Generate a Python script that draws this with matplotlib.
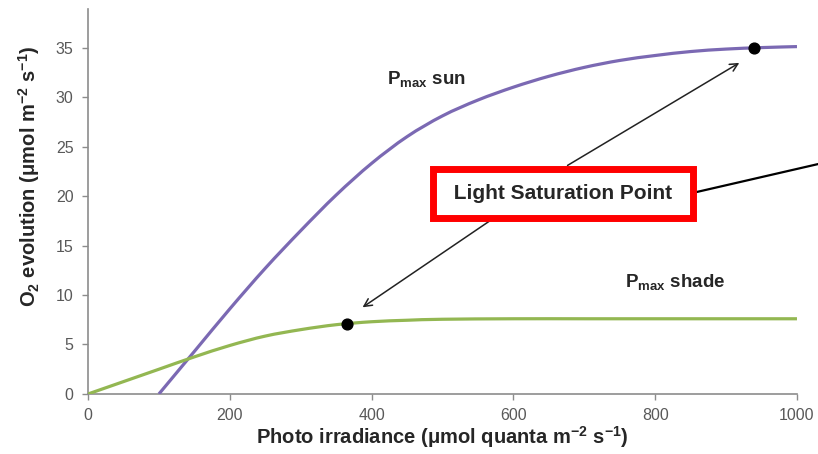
import matplotlib
matplotlib.use("Agg")
import numpy as np
import matplotlib.pyplot as plt
from matplotlib.path import Path
from matplotlib.patches import PathPatch

plt.rcParams['font.family'] = ['Liberation Sans', 'DejaVu Sans']
plt.rcParams['mathtext.fontset'] = 'custom'
plt.rcParams['mathtext.rm'] = 'Liberation Sans'
plt.rcParams['mathtext.bf'] = 'Liberation Sans:bold'

# Photosynthesis-irradiance curves
sun_x = [100, 150, 200, 250, 300, 350, 400, 450, 500, 550, 600, 650, 700, 750, 800, 850, 900, 950, 1000]
sun_y = [0.0, 4.3, 8.6, 12.7, 16.5, 20.1, 23.3, 26.0, 28.1, 29.7, 31.0, 32.1, 33.0, 33.7, 34.2, 34.6, 34.85, 35.0, 35.1]

shade_x = [0, 50, 100, 150, 200, 250, 300, 350, 400, 450, 500, 600, 700, 800, 900, 1000]
shade_y = [0.0, 1.25, 2.5, 3.75, 4.9, 5.85, 6.5, 7.0, 7.3, 7.45, 7.55, 7.6, 7.6, 7.6, 7.6, 7.6]

# Light saturation points
sat_x = [940, 365]
sat_y = [35.0, 7.1]

x_ticks = [0, 200, 400, 600, 800, 1000]
y_ticks = [0, 5, 10, 15, 20, 25, 30, 35]

purple = '#7B69B3'
green = '#93B752'


def smooth_path(xs, ys):
    """Cubic Bezier path through the points (Catmull-Rom tangents), like a smoothed line."""
    p = np.column_stack([xs, ys]).astype(float)
    n = len(p)
    verts = [p[0]]
    codes = [Path.MOVETO]
    for i in range(n - 1):
        p0 = p[i - 1] if i > 0 else p[i]
        p1, p2 = p[i], p[i + 1]
        p3 = p[i + 2] if i + 2 < n else p[i + 1]
        c1 = p1 + (p2 - p0) / 6.0
        c2 = p2 - (p3 - p1) / 6.0
        verts += [c1, c2, p2]
        codes += [Path.CURVE4] * 3
    return Path(verts, codes)


fig = plt.figure(figsize=(8.18, 4.54), dpi=100)
ax = fig.add_axes([0.1076, 0.1322, 0.8667, 0.848])

ax.add_patch(PathPatch(smooth_path(sun_x, sun_y), fill=False, ec=purple, lw=2.3,
                       capstyle='butt', zorder=3))
ax.add_patch(PathPatch(smooth_path(shade_x, shade_y), fill=False, ec=green, lw=2.3,
                       capstyle='butt', zorder=3))
ax.scatter(sat_x, sat_y, s=60, color='black', zorder=5)

ax.set_xlim(0, 1000)
ax.set_ylim(0, 38.9)
ax.set_xticks(x_ticks)
ax.set_yticks(y_ticks)
ax.tick_params(axis='both', colors='#8c8c8c', labelcolor='#595959', labelsize=11.5,
               length=4, width=1, direction='out')
ax.tick_params(axis='x', pad=6)
ax.tick_params(axis='y', pad=6.5)
for s in ['top', 'right']:
    ax.spines[s].set_visible(False)
for s in ['left', 'bottom']:
    ax.spines[s].set_color('#8c8c8c')
    ax.spines[s].set_linewidth(1.2)

ax.set_xlabel(r'Photo irradiance (μmol quanta m$^{\mathregular{-2}}$ s$^{\mathregular{-1}}$)',
              fontsize=14.5, fontweight='bold', color='#262626')
ax.xaxis.set_label_coords(0.5, -0.078)
ax.set_ylabel(r'O$_{\mathregular{2}}$ evolution (μmol m$^{\mathregular{-2}}$ s$^{\mathregular{-1}}$)',
              fontsize=14.5, fontweight='bold', color='#262626')
ax.yaxis.set_label_coords(-0.065, 0.564)

ax.text(422, 31.25, r'P$_{\mathregular{max}}$ sun', fontsize=13.5, fontweight='bold',
        color='#262626', va='baseline', ha='left')
ax.text(757, 10.7, r'P$_{\mathregular{max}}$ shade', fontsize=13.5, fontweight='bold',
        color='#262626', va='baseline', ha='left')

# Label box with pointers to the two saturation points
ax.text(670, 20.3, ' Light Saturation Point ', fontsize=15, fontweight='bold',
        color='#262626', ha='center', va='center', zorder=6,
        bbox=dict(boxstyle='square,pad=0.72', fc='white', ec='#FF0000', lw=5))

arrow_kw = dict(arrowstyle='->', color='#222222', lw=1.1, mutation_scale=14)
ax.annotate('', xy=(922, 33.6), xytext=(673, 22.95), arrowprops=arrow_kw, zorder=4)
ax.annotate('', xy=(384, 8.6), xytext=(571, 17.7), arrowprops=arrow_kw, zorder=4)
ax.plot([852, 1040], [20.3, 23.4], color='black', lw=1.6, clip_on=False, zorder=4)

fig.savefig('out.png', dpi=100)
